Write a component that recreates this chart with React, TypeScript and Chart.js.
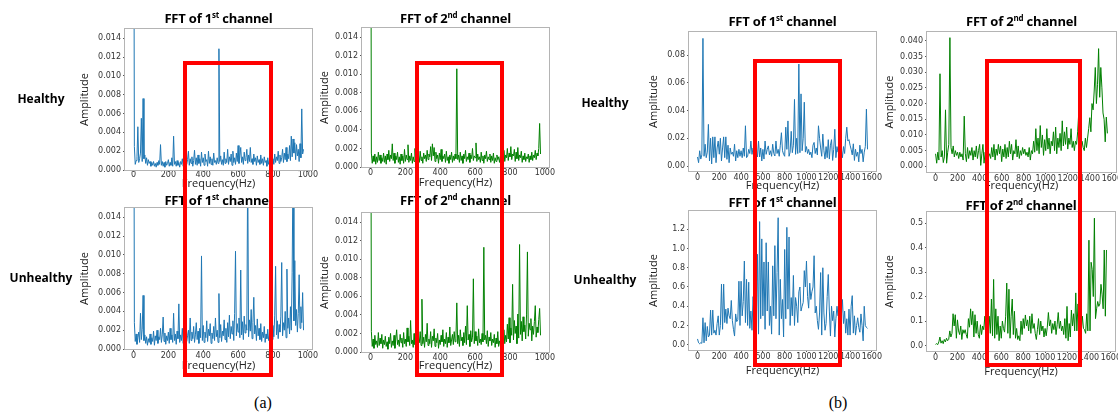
import React, { useEffect, useRef } from "react";
import { Chart, registerables } from "chart.js";

Chart.register(...registerables);

// ---------- frequency bins (Hz per sample) ----------
const BIN_A = 5;
const BIN_B = 10;

// ---------- tick labels ----------
const X_TICKS_A = [0, 200, 400, 600, 800, 1000];
const X_TICKS_B = [0, 200, 400, 600, 800, 1000, 1200, 1400, 1600];
const Y_TICKS_A = ["0.000", "0.002", "0.004", "0.006", "0.008", "0.010", "0.012", "0.014"];
const Y_TICKS_B_H1 = ["0.00", "0.02", "0.04", "0.06", "0.08"];
const Y_TICKS_B_H2 = ["0.000", "0.005", "0.010", "0.015", "0.020", "0.025", "0.030", "0.035", "0.040"];
const Y_TICKS_B_U1 = ["0.0", "0.2", "0.4", "0.6", "0.8", "1.0", "1.2"];
const Y_TICKS_B_U2 = ["0.0", "0.1", "0.2", "0.3", "0.4", "0.5"];

// ---------- (a) series, 0..975 Hz ----------
const healthyCh1A = [
  0.05, 0.0025, 0.0006, 0.001, 0.0014, 0.0046, 0.0008, 0.0012, 0.0018, 0.0055, 0.0009, 0.0076, 0.0012, 0.0016, 0.0007, 0.0013, 0.0005, 0.0011, 0.0007, 0.0009,
  0.0004, 0.0008, 0.0005, 0.0009, 0.0004, 0.0007, 0.0003, 0.0008, 0.0005, 0.001, 0.0006, 0.0027, 0.0005, 0.0009, 0.0004, 0.0008, 0.0003, 0.0009, 0.0005, 0.0007,
  0.0011, 0.0004, 0.0008, 0.0005, 0.0013, 0.0004, 0.0036, 0.0006, 0.0009, 0.0004, 0.001, 0.0005, 0.0008, 0.0003, 0.0009, 0.0006, 0.0012, 0.0004, 0.001, 0.0005,
  0.0015, 0.0006, 0.0011, 0.002, 0.0005, 0.0012, 0.0007, 0.0014, 0.0004, 0.001, 0.0021, 0.0006, 0.0013, 0.0005, 0.0016, 0.0007, 0.0012, 0.0004, 0.0019, 0.0008,
  0.0013, 0.0005, 0.0017, 0.0009, 0.0011, 0.0004, 0.002, 0.0007, 0.0014, 0.0006, 0.0012, 0.0005, 0.0018, 0.0008, 0.001, 0.0006, 0.0013, 0.0007, 0.0129, 0.0009,
  0.0015, 0.0006, 0.0011, 0.0005, 0.0019, 0.0007, 0.0012, 0.0008, 0.0022, 0.0006, 0.0014, 0.0009, 0.0017, 0.0005, 0.002, 0.0008, 0.0013, 0.0006, 0.0018, 0.0009,
  0.0026, 0.0007, 0.0015, 0.0024, 0.0008, 0.0014, 0.0006, 0.0019, 0.001, 0.0013, 0.0022, 0.0007, 0.0016, 0.0009, 0.0024, 0.0008, 0.0012, 0.0006, 0.0017, 0.0009,
  0.0013, 0.0005, 0.0015, 0.0008, 0.0011, 0.0006, 0.0016, 0.0007, 0.0012, 0.0005, 0.0014, 0.0008, 0.001, 0.0004, 0.0013, 0.0006, 0.0011, 0.0005, 0.0015, 0.0007,
  0.0012, 0.0006, 0.0017, 0.0008, 0.0014, 0.001, 0.002, 0.0007, 0.0016, 0.0009, 0.0013, 0.0022, 0.0008, 0.0018, 0.0011, 0.0024, 0.0009, 0.0017, 0.0012, 0.0026,
  0.001, 0.0036, 0.0014, 0.0033, 0.0018, 0.0029, 0.0011, 0.0027, 0.0015, 0.0022, 0.0009, 0.0028, 0.0013, 0.0065, 0.0017, 0.0022,
];

const healthyCh2A = [
  0.05, 0.0015, 0.0004, 0.0012, 0.0006, 0.0014, 0.0003, 0.0011, 0.0005, 0.0016, 0.0007, 0.0013, 0.0004, 0.001, 0.0006, 0.0015, 0.0005, 0.0012, 0.0003, 0.0014,
  0.0008, 0.0018, 0.0006, 0.0013, 0.0009, 0.0025, 0.0007, 0.0015, 0.0004, 0.0012, 0.0008, 0.0016, 0.0005, 0.0011, 0.0003, 0.0014, 0.0007, 0.0012, 0.0004, 0.0019,
  0.0006, 0.0013, 0.0008, 0.0024, 0.0005, 0.0012, 0.0007, 0.0015, 0.0004, 0.0011, 0.0006, 0.002, 0.0003, 0.0014, 0.0008, 0.0012, 0.0005, 0.0017, 0.0007, 0.0011,
  0.0004, 0.0015, 0.0009, 0.0013, 0.0006, 0.0018, 0.0008, 0.0014, 0.0011, 0.0022, 0.0007, 0.0025, 0.0012, 0.0021, 0.0006, 0.0016, 0.0009, 0.0013, 0.0004, 0.0015,
  0.0008, 0.0019, 0.0006, 0.0012, 0.0009, 0.0014, 0.0005, 0.0017, 0.0007, 0.0011, 0.0004, 0.0013, 0.0008, 0.0016, 0.0005, 0.0012, 0.0007, 0.0014, 0.0009, 0.0106,
  0.0008, 0.0013, 0.0005, 0.0016, 0.0007, 0.0012, 0.0004, 0.0014, 0.0009, 0.0018, 0.0006, 0.0011, 0.0008, 0.0015, 0.0005, 0.0013, 0.0009, 0.002, 0.0007, 0.0012,
  0.001, 0.0026, 0.0006, 0.0014, 0.0008, 0.0011, 0.0005, 0.0016, 0.0007, 0.0012, 0.0004, 0.0013, 0.0009, 0.0017, 0.0006, 0.0011, 0.0008, 0.0014, 0.0005, 0.0012,
  0.0007, 0.0015, 0.0004, 0.001, 0.0006, 0.0013, 0.0008, 0.0011, 0.0005, 0.0012, 0.0007, 0.0014, 0.0009, 0.0018, 0.0006, 0.0013, 0.001, 0.002, 0.0007, 0.0015,
  0.0011, 0.0022, 0.0008, 0.0014, 0.0012, 0.0019, 0.0006, 0.0016, 0.0009, 0.0021, 0.0007, 0.0013, 0.001, 0.0017, 0.0005, 0.0012, 0.0008, 0.0015, 0.0006, 0.0011,
  0.0009, 0.0014, 0.0005, 0.0012, 0.0008, 0.0016, 0.0007, 0.0013, 0.001, 0.0018, 0.0008, 0.0015, 0.0012, 0.002, 0.0047, 0.0014,
];

const unhealthyCh1A = [
  0.05, 0.0028, 0.0008, 0.0016, 0.0005, 0.0012, 0.0018, 0.0007, 0.0038, 0.001, 0.0021, 0.0057, 0.0009, 0.0015, 0.0006, 0.0013, 0.0004, 0.0011, 0.0007, 0.0016,
  0.0005, 0.0012, 0.0008, 0.0019, 0.0004, 0.0014, 0.0009, 0.002, 0.0006, 0.0013, 0.001, 0.0022, 0.0007, 0.0015, 0.0034, 0.0008, 0.0017, 0.0005, 0.0014, 0.0009,
  0.0018, 0.0006, 0.0022, 0.001, 0.0015, 0.0007, 0.0038, 0.0009, 0.0016, 0.0005, 0.0019, 0.0011, 0.0048, 0.0007, 0.0015, 0.0009, 0.0022, 0.0006, 0.0017, 0.001,
  0.0025, 0.0008, 0.0014, 0.002, 0.0006, 0.0033, 0.0009, 0.0018, 0.0011, 0.0024, 0.0007, 0.0015, 0.0028, 0.001, 0.0019, 0.0006, 0.0022, 0.0012, 0.0099, 0.0009,
  0.0025, 0.0007, 0.0018, 0.0012, 0.003, 0.0008, 0.0021, 0.0014, 0.0027, 0.0006, 0.0017, 0.0011, 0.0024, 0.0009, 0.0033, 0.0013, 0.002, 0.0007, 0.0059, 0.0012,
  0.0026, 0.0008, 0.0019, 0.0014, 0.0031, 0.001, 0.0022, 0.0007, 0.0028, 0.0013, 0.0036, 0.0011, 0.0024, 0.0016, 0.003, 0.0009, 0.0038, 0.0104, 0.0014, 0.0027,
  0.0018, 0.0033, 0.0012, 0.0084, 0.0015, 0.0029, 0.001, 0.0035, 0.0017, 0.0026, 0.002, 0.02, 0.0013, 0.0031, 0.0019, 0.0042, 0.0011, 0.0028, 0.0055, 0.0016,
  0.0025, 0.0009, 0.0032, 0.0014, 0.0022, 0.001, 0.0027, 0.0008, 0.0018, 0.0012, 0.0024, 0.0007, 0.0016, 0.0011, 0.0021, 0.0009, 0.0014, 0.0006, 0.0019, 0.001,
  0.0025, 0.0013, 0.0036, 0.0088, 0.0015, 0.003, 0.0011, 0.0026, 0.0018, 0.0035, 0.0092, 0.0014, 0.0028, 0.002, 0.004, 0.0012, 0.0085, 0.0022, 0.0033, 0.0016,
  0.0045, 0.002, 0.0081, 0.02, 0.003, 0.0094, 0.0025, 0.0042, 0.0018, 0.0038, 0.0079, 0.0022, 0.0045, 0.0028, 0.006, 0.002,
];

const unhealthyCh2A = [
  0.05, 0.0022, 0.0006, 0.0014, 0.0004, 0.0018, 0.0008, 0.0012, 0.0005, 0.0021, 0.0007, 0.0015, 0.0009, 0.0019, 0.0004, 0.0013, 0.0008, 0.0017, 0.0006, 0.0011,
  0.0003, 0.0016, 0.0009, 0.002, 0.0005, 0.0012, 0.0007, 0.0018, 0.0004, 0.0014, 0.0024, 0.0008, 0.0013, 0.0006, 0.0019, 0.001, 0.0015, 0.0005, 0.0021, 0.0009,
  0.0014, 0.0006, 0.0026, 0.0011, 0.0017, 0.0007, 0.0034, 0.0009, 0.0013, 0.0005, 0.002, 0.0008, 0.0015, 0.0025, 0.0006, 0.0012, 0.001, 0.0022, 0.0007, 0.0057,
  0.0009, 0.0016, 0.0005, 0.0019, 0.0011, 0.0031, 0.0007, 0.0014, 0.0009, 0.0022, 0.0005, 0.0017, 0.0012, 0.0025, 0.0006, 0.0015, 0.001, 0.002, 0.0004, 0.0013,
  0.0008, 0.0018, 0.0011, 0.0024, 0.0006, 0.0014, 0.0009, 0.0021, 0.0005, 0.0016, 0.001, 0.0027, 0.0007, 0.0013, 0.0019, 0.0008, 0.0022, 0.0011, 0.0015, 0.0053,
  0.0009, 0.0018, 0.0006, 0.0024, 0.0012, 0.0016, 0.0007, 0.0021, 0.001, 0.0028, 0.0008, 0.005, 0.0013, 0.0019, 0.0006, 0.0023, 0.0011, 0.0016, 0.0079, 0.0009,
  0.0022, 0.0012, 0.0017, 0.0007, 0.0025, 0.001, 0.0014, 0.0008, 0.002, 0.0011, 0.0113, 0.0013, 0.0018, 0.0009, 0.0023, 0.0006, 0.0016, 0.0012, 0.0021, 0.0007,
  0.0014, 0.001, 0.0019, 0.0005, 0.0015, 0.0009, 0.0022, 0.0006, 0.0012, 0.0008, 0.0017, 0.0005, 0.0013, 0.0024, 0.0009, 0.0018, 0.0011, 0.003, 0.0014, 0.0037,
  0.001, 0.0026, 0.0018, 0.0073, 0.0013, 0.0034, 0.002, 0.0028, 0.0009, 0.0041, 0.0015, 0.0116, 0.0019, 0.0033, 0.0012, 0.0038, 0.0022, 0.0029, 0.0014, 0.004,
  0.0108, 0.0017, 0.0031, 0.0024, 0.0036, 0.0012, 0.0028, 0.0019, 0.0033, 0.005, 0.0016, 0.0027, 0.0021, 0.0035, 0.0047, 0.0018,
];

// ---------- (b) series, 0..1560 Hz ----------
const healthyCh1B = [
  0.0065, 0.0024, 0.011, 0.005, 0.008, 0.092, 0.007, 0.0157, 0.006, 0.01, 0.03, 0.0036, 0.02, 0.0015, 0.021, 0.006, 0.021, 0.0024, 0.013, 0.018,
  0.0085, 0.02, 0.0036, 0.013, 0.021, 0.006, 0.021, 0.0048, 0.015, 0.0024, 0.013, 0.0085, 0.01, 0.007, 0.0157, 0.0036, 0.011, 0.006, 0.012, 0.007,
  0.011, 0.006, 0.013, 0.007, 0.029, 0.006, 0.007, 0.012, 0.009, 0.018, 0.0084, 0.013, 0.006, 0.0157, 0.008, 0.0065, 0.018, 0.0065, 0.013, 0.0036,
  0.012, 0.005, 0.018, 0.0084, 0.012, 0.0145, 0.008, 0.011, 0.007, 0.0157, 0.009, 0.0072, 0.018, 0.009, 0.012, 0.007, 0.015, 0.024, 0.011, 0.0084,
  0.007, 0.028, 0.012, 0.0325, 0.007, 0.01, 0.025, 0.0096, 0.015, 0.048, 0.0084, 0.02, 0.009, 0.0735, 0.0096, 0.052, 0.011, 0.02, 0.046, 0.01,
  0.014, 0.009, 0.012, 0.008, 0.01, 0.006, 0.015, 0.017, 0.009, 0.013, 0.008, 0.029, 0.02, 0.013, 0.007, 0.023, 0.011, 0.005, 0.014, 0.006,
  0.019, 0.005, 0.015, 0.019, 0.004, 0.012, 0.0265, 0.006, 0.014, 0.01, 0.017, 0.008, 0.012, 0.006, 0.014, 0.009, 0.02, 0.028, 0.018, 0.019,
  0.015, 0.012, 0.008, 0.016, 0.004, 0.012, 0.007, 0.01, 0.003, 0.015, 0.009, 0.012, 0.003, 0.01, 0.014, 0.041, 0.012,
];

const healthyCh2B = [
  0.004, 0.001, 0.0045, 0.002, 0.0295, 0.003, 0.005, 0.0012, 0.003, 0.018, 0.001, 0.0045, 0.007, 0.041, 0.006, 0.004, 0.0065, 0.003, 0.005, 0.0035,
  0.0045, 0.0025, 0.0045, 0.003, 0.004, 0.002, 0.016, 0.004, 0.0015, 0.006, 0.0025, 0.005, 0.0035, 0.006, 0.002, 0.005, 0.003, 0.0065, 0.0025, 0.005,
  0.007, 0.0003, 0.004, 0.007, 0.001, 0.0045, 0.002, 0.0065, 0.003, 0.004, 0.0025, 0.006, 0.003, 0.007, 0.002, 0.0055, 0.0035, 0.007, 0.004, 0.0065,
  0.0015, 0.0055, 0.003, 0.007, 0.0025, 0.006, 0.003, 0.008, 0.004, 0.007, 0.002, 0.005, 0.004, 0.0085, 0.003, 0.0065, 0.0025, 0.005, 0.0035, 0.006,
  0.004, 0.0055, 0.0035, 0.0045, 0.003, 0.006, 0.002, 0.005, 0.004, 0.008, 0.0045, 0.012, 0.005, 0.009, 0.004, 0.013, 0.006, 0.01, 0.0035, 0.0085,
  0.005, 0.012, 0.0055, 0.009, 0.004, 0.008, 0.0065, 0.011, 0.005, 0.0125, 0.004, 0.009, 0.006, 0.0105, 0.005, 0.0145, 0.0065, 0.011, 0.007, 0.0125,
  0.0055, 0.009, 0.007, 0.012, 0.006, 0.008, 0.005, 0.008, 0.007, 0.011, 0.0173, 0.009, 0.0045, 0.008, 0.006, 0.005, 0.009, 0.006, 0.009, 0.012,
  0.0155, 0.011, 0.02, 0.018, 0.024, 0.0315, 0.02, 0.026, 0.0375, 0.022, 0.0315, 0.025, 0.017, 0.015, 0.0078, 0.0157, 0.0105,
];

const unhealthyCh1B = [
  0.06, 0.02, 0.01, 0.02, 0.015, 0.28, 0.02, 0.23, 0.04, 0.19, 0.08, 0.1, 0.36, 0.1, 0.36, 0.12, 0.15, 0.1, 0.22, 0.3,
  0.1, 0.2, 0.63, 0.16, 0.63, 0.23, 0.37, 0.22, 0.38, 0.3, 0.27, 0.46, 0.25, 0.16, 0.09, 0.32, 0.24, 0.26, 0.66, 0.2,
  0.66, 0.3, 0.45, 0.87, 0.23, 0.68, 0.2, 0.65, 0.17, 0.35, 0.15, 0.5, 0.3, 0.6, 0.25, 0.94, 0.11, 1.28, 0.27, 1.1,
  0.3, 0.86, 0.16, 1.06, 0.35, 0.86, 0.2, 0.4, 0.11, 0.82, 0.3, 1.03, 0.27, 0.75, 1.32, 0.1, 0.68, 0.27, 0.47, 0.08,
  0.99, 0.27, 1.22, 0.37, 1.12, 0.2, 0.49, 0.3, 0.72, 0.2, 0.49, 0.4, 0.23, 0.55, 0.6, 0.35, 0.4, 0.44, 0.77, 0.6,
  0.87, 0.5, 0.38, 0.64, 0.47, 0.55, 0.6, 0.925, 0.33, 0.4, 0.25, 0.16, 0.33, 0.75, 0.1, 0.8, 0.33, 0.15, 0.22, 0.5,
  0.73, 0.35, 0.09, 0.4, 0.25, 0.35, 0.08, 0.27, 0.4, 0.3, 0.42, 0.15, 0.3, 0.47, 0.22, 0.35, 0.12, 0.27, 0.1, 0.37,
  0.1, 0.4, 0.51, 0.12, 0.3, 0.1, 0.2, 0.28, 0.18, 0.13, 0.32, 0.2, 0.04, 0.4, 0.2, 0.18, 0.17,
];

const unhealthyCh2B = [
  0.005, 0.008, 0.004, 0.015, 0.035, 0.01, 0.02, 0.008, 0.025, 0.015, 0.03, 0.02, 0.025, 0.06, 0.035, 0.05, 0.13, 0.08, 0.126, 0.03,
  0.105, 0.06, 0.045, 0.08, 0.025, 0.065, 0.05, 0.065, 0.045, 0.03, 0.11, 0.075, 0.15, 0.085, 0.14, 0.035, 0.126, 0.05, 0.1, 0.045,
  0.03, 0.085, 0.045, 0.08, 0.065, 0.12, 0.04, 0.16, 0.06, 0.12, 0.05, 0.19, 0.04, 0.27, 0.03, 0.15, 0.045, 0.12, 0.02, 0.08,
  0.03, 0.1, 0.07, 0.055, 0.12, 0.255, 0.05, 0.23, 0.03, 0.12, 0.19, 0.045, 0.14, 0.03, 0.07, 0.025, 0.04, 0.02, 0.1, 0.045,
  0.11, 0.07, 0.125, 0.08, 0.105, 0.06, 0.12, 0.05, 0.13, 0.07, 0.09, 0.05, 0.025, 0.065, 0.11, 0.045, 0.1, 0.06, 0.08, 0.035,
  0.07, 0.04, 0.075, 0.135, 0.08, 0.105, 0.05, 0.09, 0.065, 0.1, 0.045, 0.085, 0.135, 0.07, 0.1, 0.06, 0.08, 0.045, 0.11, 0.03,
  0.16, 0.02, 0.09, 0.035, 0.145, 0.08, 0.13, 0.06, 0.215, 0.06, 0.17, 0.08, 0.1, 0.06, 0.12, 0.07, 0.065, 0.05, 0.13, 0.06,
  0.43, 0.06, 0.34, 0.31, 0.2, 0.52, 0.11, 0.15, 0.18, 0.16, 0.17, 0.25, 0.21, 0.15, 0.39, 0.12, 0.39,
];

// ---------- styling ----------
const BLUE = "#1f77b4";
const GREEN = "#008000";
const FRAME_COLOR = "#b4b4b4";
const TICK_COLOR = "#555555";
const TICK_FONT = { family: '"DejaVu Sans", sans-serif', size: 8, lineHeight: 1 };
const AXIS_FONT = { family: '"Open Sans", sans-serif', size: 11, lineHeight: 1.2 };
const PAD_T = 8;
const PAD_R = 14;

type Frame = { l: number; t: number; r: number; b: number };
type PanelSpec = {
  values: number[];
  bin: number;
  color: string;
  xTicks: number[];
  xMin: number;
  xMax: number;
  yTicks: string[];
  yMin: number;
  yMax: number;
  frame: Frame;
  ampX: number;
  freqY: number;
  xLab: number;
  sup: string;
  titleTop: number;
};

const PANELS: PanelSpec[] = [
  { values: healthyCh1A, bin: BIN_A, color: BLUE, xTicks: X_TICKS_A, xMin: -48.75, xMax: 1023.75, yTicks: Y_TICKS_A, yMin: 0, yMax: 0.015,
    frame: { l: 125, t: 29, r: 312, b: 170 }, ampX: 85, freqY: 183, xLab: 5, sup: "st", titleTop: 11.8 },
  { values: healthyCh2A, bin: BIN_A, color: GREEN, xTicks: X_TICKS_A, xMin: -48.75, xMax: 1023.75, yTicks: Y_TICKS_A, yMin: 0, yMax: 0.015,
    frame: { l: 362, t: 28, r: 549, b: 167 }, ampX: 324.5, freqY: 182.5, xLab: 6, sup: "nd", titleTop: 11.8 },
  { values: unhealthyCh1A, bin: BIN_A, color: BLUE, xTicks: X_TICKS_A, xMin: -48.75, xMax: 1023.75, yTicks: Y_TICKS_A, yMin: 0, yMax: 0.015,
    frame: { l: 125, t: 208, r: 312, b: 349 }, ampX: 85, freqY: 365, xLab: 6.5, sup: "st", titleTop: 193.5 },
  { values: unhealthyCh2A, bin: BIN_A, color: GREEN, xTicks: X_TICKS_A, xMin: -48.75, xMax: 1023.75, yTicks: Y_TICKS_A, yMin: 0, yMax: 0.015,
    frame: { l: 362, t: 213, r: 549, b: 352 }, ampX: 324.5, freqY: 365.8, xLab: 6, sup: "nd", titleTop: 194.2 },
  { values: healthyCh1B, bin: BIN_B, color: BLUE, xTicks: X_TICKS_B, xMin: -78, xMax: 1638, yTicks: Y_TICKS_B_H1, yMin: -0.0036, yMax: 0.0966,
    frame: { l: 689, t: 32, r: 876, b: 171 }, ampX: 654, freqY: 185.4, xLab: 6.7, sup: "st", titleTop: 14.5 },
  { values: healthyCh2B, bin: BIN_B, color: GREEN, xTicks: X_TICKS_B, xMin: -78, xMax: 1638, yTicks: Y_TICKS_B_H2, yMin: -0.0018, yMax: 0.0428,
    frame: { l: 927, t: 32, r: 1116, b: 172 }, ampX: 889.5, freqY: 185, xLab: 6.6, sup: "nd", titleTop: 15.2 },
  { values: unhealthyCh1B, bin: BIN_B, color: BLUE, xTicks: X_TICKS_B, xMin: -78, xMax: 1638, yTicks: Y_TICKS_B_U1, yMin: -0.055, yMax: 1.39,
    frame: { l: 689, t: 211, r: 876, b: 350 }, ampX: 654, freqY: 370.8, xLab: 7.3, sup: "st", titleTop: 196.2 },
  { values: unhealthyCh2B, bin: BIN_B, color: GREEN, xTicks: X_TICKS_B, xMin: -78, xMax: 1638, yTicks: Y_TICKS_B_U2, yMin: -0.022, yMax: 0.545,
    frame: { l: 927, t: 212, r: 1115, b: 351 }, ampX: 889.5, freqY: 371.2, xLab: 7, sup: "nd", titleTop: 198.5 },
];

const ROW_LABELS = [
  { text: "Healthy", cx: 41, top: 93.3 },
  { text: "Unhealthy", cx: 41, top: 272 },
  { text: "Healthy", cx: 605, top: 96.6 },
  { text: "Unhealthy", cx: 605, top: 274.3 },
];

const CAPTIONS = [
  { text: "(a)", cx: 263, top: 395 },
  { text: "(b)", cx: 838, top: 395 },
];

const RED_BOXES = [
  { l: 183, t: 61, w: 90, h: 316 },
  { l: 415, t: 61, w: 89, h: 316 },
  { l: 753, t: 59, w: 89, h: 308 },
  { l: 985, t: 59, w: 97, h: 308 },
];

const framePlugin = {
  id: "frame",
  afterDraw(chart: any) {
    const { ctx, chartArea: a } = chart;
    ctx.save();
    ctx.strokeStyle = FRAME_COLOR;
    ctx.lineWidth = 1;
    ctx.strokeRect(Math.round(a.left) - 0.5, Math.round(a.top) - 0.5, Math.round(a.right - a.left) + 1, Math.round(a.bottom - a.top) + 1);
    ctx.restore();
  },
};

function Panel({ spec }: { spec: PanelSpec }) {
  const ref = useRef<HTMLCanvasElement>(null);
  const titleLH = AXIS_FONT.size * AXIS_FONT.lineHeight;
  const cLeft = Math.round(spec.ampX - titleLH / 2);
  const cTop = spec.frame.t - PAD_T;
  const cRight = spec.frame.r + PAD_R;
  const cBottom = Math.round(spec.freqY + titleLH / 2);
  const W = cRight - cLeft;
  const H = cBottom - cTop;
  const yw = spec.frame.l - cLeft;
  const xh = cBottom - spec.frame.b;

  useEffect(() => {
    const chart = new Chart(ref.current as HTMLCanvasElement, {
      type: "line",
      data: {
        datasets: [
          {
            data: spec.values.map((v, i) => ({ x: i * spec.bin, y: v })),
            borderColor: spec.color,
            borderWidth: 1,
            pointRadius: 0,
            fill: false,
            tension: 0,
          },
        ],
      },
      options: {
        animation: false,
        responsive: false,
        devicePixelRatio: 1,
        events: [],
        layout: { padding: { top: PAD_T, right: PAD_R, left: 0, bottom: 0 } },
        plugins: { legend: { display: false }, tooltip: { enabled: false }, title: { display: false } },
        scales: {
          x: {
            type: "linear",
            bounds: "data",
            min: spec.xMin,
            max: spec.xMax,
            afterBuildTicks: (sc: any) => {
              sc.ticks = spec.xTicks.map((v) => ({ value: v }));
            },
            afterFit: (sc: any) => {
              sc.height = xh;
            },
            grid: { display: true, drawOnChartArea: false, drawTicks: true, tickLength: 2, color: TICK_COLOR },
            border: { display: false },
            ticks: {
              autoSkip: false,
              maxRotation: 0,
              minRotation: 0,
              padding: spec.xLab - 2 - 4,
              font: TICK_FONT,
              color: "#333",
              callback: (v: any) => String(v),
            },
            title: { display: true, text: "Frequency(Hz)", font: AXIS_FONT, color: "#222", padding: 0 },
          },
          y: {
            type: "linear",
            bounds: "data",
            min: spec.yMin,
            max: spec.yMax,
            afterBuildTicks: (sc: any) => {
              sc.ticks = spec.yTicks.map((s) => ({ value: Number(s) }));
            },
            afterFit: (sc: any) => {
              sc.width = yw;
            },
            grid: { display: true, drawOnChartArea: false, drawTicks: true, tickLength: 2, color: TICK_COLOR },
            border: { display: false },
            ticks: {
              autoSkip: false,
              padding: 2,
              font: TICK_FONT,
              color: "#333",
              callback: (_v: any, i: number) => spec.yTicks[i],
            },
            title: { display: true, text: "Amplitude", font: AXIS_FONT, color: "#222", padding: 0 },
          },
        },
      } as any,
      plugins: [framePlugin],
    });
    return () => chart.destroy();
  }, []);

  return (
    <canvas
      ref={ref}
      width={W}
      height={H}
      style={{ position: "absolute", left: cLeft, top: cTop, width: W, height: H }}
    />
  );
}

function PanelTitle({ spec }: { spec: PanelSpec }) {
  const cx = (spec.frame.l + spec.frame.r) / 2;
  return (
    <div
      style={{
        position: "absolute",
        left: cx - 100,
        width: 200,
        top: spec.titleTop,
        textAlign: "center",
        fontFamily: '"Open Sans", sans-serif',
        fontWeight: 700,
        fontSize: 13,
        lineHeight: "13px",
        letterSpacing: -0.2,
        whiteSpace: "nowrap",
        color: "#000",
      }}
    >
      FFT of {spec.sup === "st" ? "1" : "2"}
      <sup style={{ fontSize: 8, verticalAlign: "5px", lineHeight: 0 }}>{spec.sup}</sup> channel
    </div>
  );
}

export default function App() {
  return (
    <div
      style={{
        position: "absolute",
        left: 0,
        top: 0,
        width: 1118,
        height: 416,
        overflow: "hidden",
        background: "#fff",
      }}
    >
      {PANELS.map((p, i) => (
        <Panel key={"p" + i} spec={p} />
      ))}
      {PANELS.map((p, i) => (
        <PanelTitle key={"t" + i} spec={p} />
      ))}
      {ROW_LABELS.map((r, i) => (
        <div
          key={"r" + i}
          style={{
            position: "absolute",
            left: r.cx - 60,
            width: 120,
            top: r.top,
            textAlign: "center",
            fontFamily: '"Open Sans", sans-serif',
            fontWeight: 700,
            fontSize: 12,
            lineHeight: "12px",
            color: "#000",
          }}
        >
          {r.text}
        </div>
      ))}
      {CAPTIONS.map((c, i) => (
        <div
          key={"c" + i}
          style={{
            position: "absolute",
            left: c.cx - 30,
            width: 60,
            top: c.top,
            textAlign: "center",
            fontFamily: '"Liberation Serif", serif',
            fontSize: 16,
            lineHeight: "16px",
            color: "#000",
          }}
        >
          {c.text}
        </div>
      ))}
      {RED_BOXES.map((b, i) => (
        <div
          key={"b" + i}
          style={{
            position: "absolute",
            left: b.l,
            top: b.t,
            width: b.w,
            height: b.h,
            border: "4px solid #ff0000",
            boxSizing: "border-box",
            pointerEvents: "none",
          }}
        />
      ))}
    </div>
  );
}
